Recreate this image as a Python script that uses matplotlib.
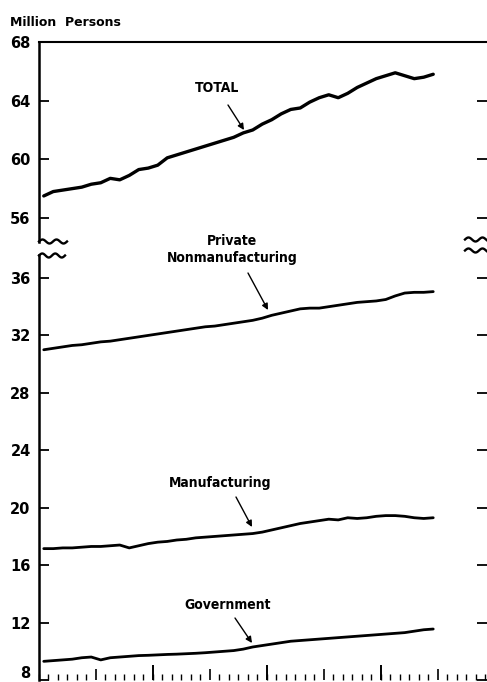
import matplotlib
matplotlib.use('Agg')
import matplotlib.pyplot as plt
import matplotlib.transforms as mtransforms
import numpy as np
from matplotlib.lines import Line2D
from matplotlib.patches import FancyArrowPatch

# ---- data: monthly, Jan 1964 .. Jun 1967 (million persons) ----
months = list(range(42))
total = [57.5, 57.8, 57.9, 58.0, 58.1, 58.3, 58.4, 58.7, 58.6, 58.9, 59.3, 59.4,
         59.6, 60.1, 60.3, 60.5, 60.7, 60.9, 61.1, 61.3, 61.5, 61.8, 62.0, 62.4,
         62.7, 63.1, 63.4, 63.5, 63.9, 64.2, 64.4, 64.2, 64.5, 64.9, 65.2, 65.5,
         65.7, 65.9, 65.7, 65.5, 65.6, 65.8]
private_nonmfg = [31.0, 31.1, 31.2, 31.3, 31.35, 31.45, 31.55, 31.6, 31.7, 31.8, 31.9, 32.0,
                  32.1, 32.2, 32.3, 32.4, 32.5, 32.6, 32.65, 32.75, 32.85, 32.95, 33.05, 33.2,
                  33.4, 33.55, 33.7, 33.85, 33.9, 33.9, 34.0, 34.1, 34.2, 34.3, 34.35, 34.4,
                  34.5, 34.75, 34.95, 35.0, 35.0, 35.05]
manufacturing = [17.15, 17.15, 17.2, 17.2, 17.25, 17.3, 17.3, 17.35, 17.4, 17.2, 17.35, 17.5,
                 17.6, 17.65, 17.75, 17.8, 17.9, 17.95, 18.0, 18.05, 18.1, 18.15, 18.2, 18.3,
                 18.45, 18.6, 18.75, 18.9, 19.0, 19.1, 19.2, 19.15, 19.3, 19.25, 19.3, 19.4,
                 19.45, 19.45, 19.4, 19.3, 19.25, 19.3]
government = [9.3, 9.35, 9.4, 9.45, 9.55, 9.6, 9.4, 9.55, 9.6, 9.65, 9.7, 9.72,
              9.75, 9.78, 9.8, 9.83, 9.86, 9.9, 9.95, 10.0, 10.05, 10.15, 10.3, 10.4,
              10.5, 10.6, 10.7, 10.75, 10.8, 10.85, 10.9, 10.95, 11.0, 11.05, 11.1, 11.15,
              11.2, 11.25, 11.3, 11.4, 11.5, 11.55]
upper_ticks = [56, 60, 64, 68]
lower_ticks = [8, 12, 16, 20, 24, 28, 32, 36]
year_ticks = [12, 24, 36]
half_year_ticks = [6, 18, 30, 42]
month_ticks = list(range(0, 48))

W, H = 487, 682
fig = plt.figure(figsize=(W / 100, H / 100), dpi=100)


def fx(px):
    return px / W


def fy(py):
    return 1 - py / H


left = fx(39)
right = 1.0
ax_u = fig.add_axes([left, fy(241.7), right - left, fy(42) - fy(241.7)])
ax_l = fig.add_axes([left, fy(680), right - left, fy(255) - fy(680)])

xs = [m + 0.5 for m in months]
lab_font = dict(family='DejaVu Sans', weight='bold', size=10.5)

for ax in (ax_u, ax_l):
    ax.set_xlim(0, 47.16)
    ax.spines['right'].set_visible(False)
    ax.spines['left'].set_linewidth(1.8)
    ax.tick_params(axis='y', which='major', direction='in', length=7, width=1.3,
                   right=True, left=True, pad=6)
    ax.patch.set_alpha(0)

ax_u.set_ylim(54.38, 68)
ax_u.spines['bottom'].set_visible(False)
ax_u.spines['top'].set_linewidth(1.5)
ax_u.set_xticks([])
ax_u.set_yticks(upper_ticks)
ax_u.set_yticklabels([str(t) for t in upper_ticks], fontdict=lab_font)
ax_u.plot(xs, total, color='black', lw=2.4, solid_capstyle='round')

ax_l.set_ylim(8, 37.6)
ax_l.spines['top'].set_visible(False)
ax_l.spines['bottom'].set_visible(False)
ax_l.set_yticks(lower_ticks)
ax_l.set_yticklabels([str(t) for t in lower_ticks], fontdict=lab_font)
# lift the bottom "8" a little so it stays inside the picture
lbl8 = ax_l.get_yticklabels()[0]
lbl8.set_transform(lbl8.get_transform() +
                   mtransforms.ScaledTranslation(0, 8 / 100, fig.dpi_scale_trans))
ax_l.set_xticks(half_year_ticks)
ax_l.set_xticks(month_ticks, minor=True)
ax_l.tick_params(axis='x', which='major', direction='in', length=8, width=1.2, labelbottom=False)
ax_l.tick_params(axis='x', which='minor', direction='in', length=4.5, width=1.0)
sec = ax_l.secondary_xaxis('bottom')
sec.set_xticks(year_ticks)
sec.tick_params(direction='in', length=11, width=1.4, labelbottom=False)
sec.spines['bottom'].set_visible(False)

for series in (private_nonmfg, manufacturing, government):
    ax_l.plot(xs, series, color='black', lw=2.0, solid_capstyle='round')

# ---- axis break squiggles ----
def squiggle(x0, x1, yc, amp=2.0, period=14.0):
    px = np.linspace(x0, x1, 60)
    py = yc + amp * np.sin(2 * np.pi * (px - x0) / period + np.pi)
    fig.add_artist(Line2D(fx(px), fy(py), color='black', lw=1.7,
                          transform=fig.transFigure))

squiggle(39, 67, 241.5)
squiggle(39, 65, 255.5, period=13)
squiggle(465, 490, 239.5)
squiggle(465, 490, 250.5)

# ---- labels ----
fig.text(fx(10), fy(22), 'Million  Persons', ha='left', va='center',
         family='DejaVu Sans', weight='bold', size=9)

cond = dict(family='DejaVu Sans', stretch='condensed', weight='bold', size=10)
fig.text(fx(217), fy(88), 'TOTAL', ha='center', va='center', **cond)
fig.text(fx(232), fy(241), 'Private', ha='center', va='center', **cond)
fig.text(fx(232), fy(258), 'Nonmanufacturing', ha='center', va='center', **cond)
fig.text(fx(220), fy(483), 'Manufacturing', ha='center', va='center', **cond)
fig.text(fx(228), fy(605), 'Government', ha='center', va='center', **cond)


def arrow(x0, y0, x1, y1):
    fig.add_artist(FancyArrowPatch((fx(x0), fy(y0)), (fx(x1), fy(y1)),
                                   transform=fig.transFigure, arrowstyle='-|>',
                                   mutation_scale=9, lw=1.0, color='black',
                                   shrinkA=0, shrinkB=0))

arrow(228, 105, 244, 130)
arrow(248, 273, 268, 310)
arrow(236, 497, 252, 527)
arrow(235, 618, 252, 643)

fig.savefig('out.png', dpi=100)
